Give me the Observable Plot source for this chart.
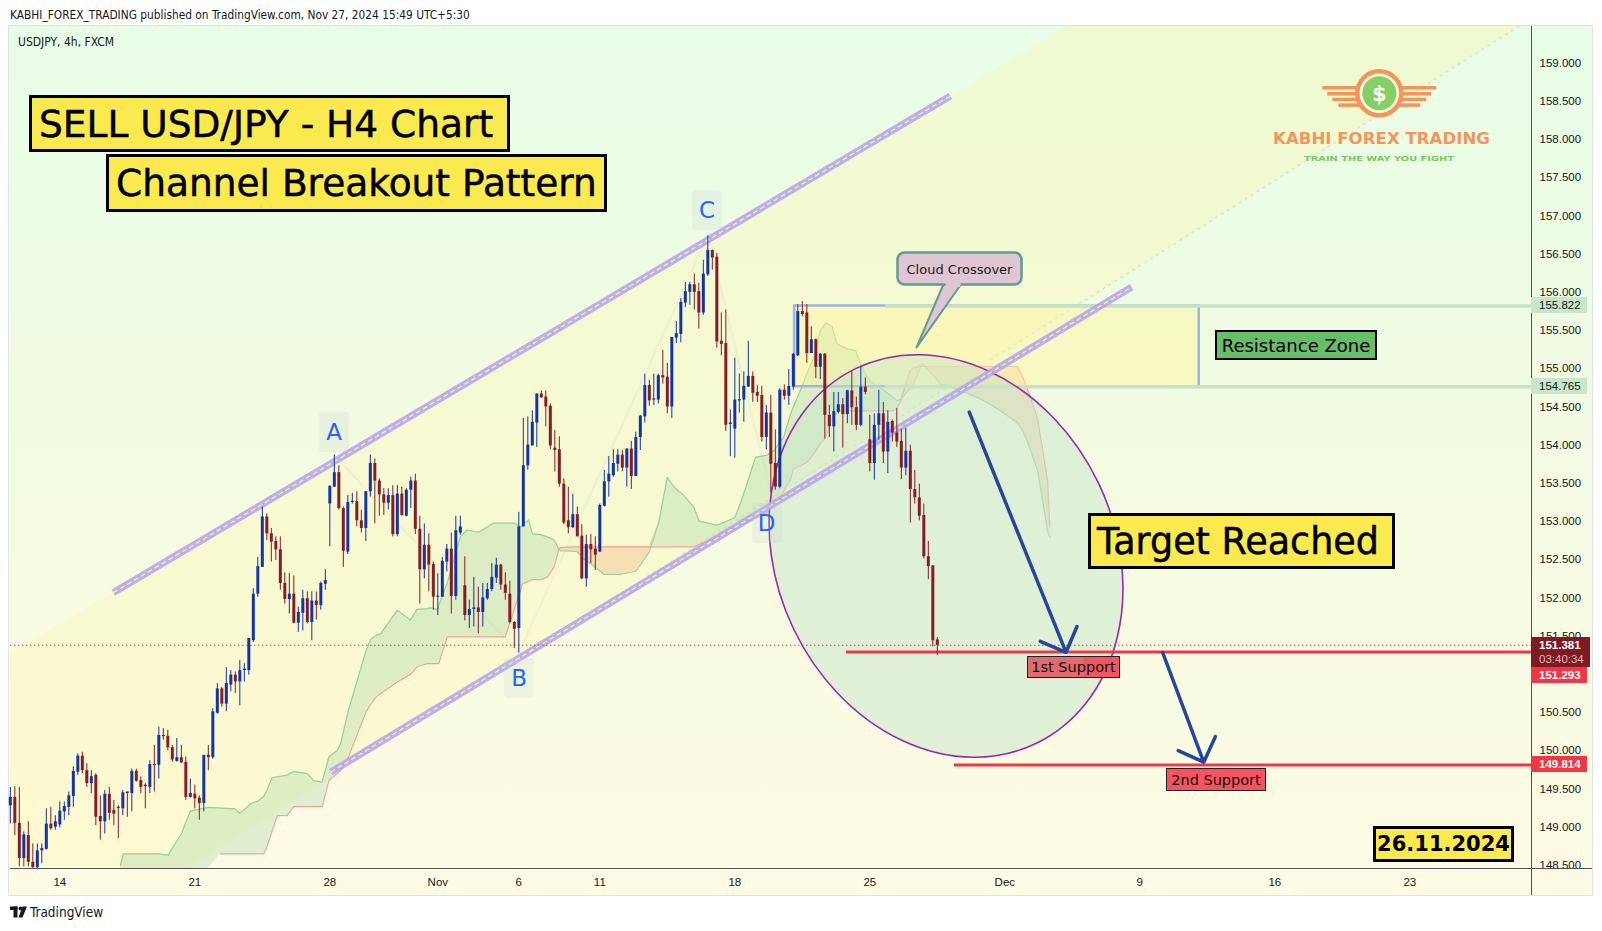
<!DOCTYPE html>
<html><head><meta charset="utf-8">
<script src="https://cdn.jsdelivr.net/npm/d3@7"></script>
<script src="https://cdn.jsdelivr.net/npm/@observablehq/plot@0.6"></script>
<style>
body{margin:0;background:#fff;}
#page{position:relative;width:1602px;height:931px;overflow:hidden;background:#fff;font-family:"DejaVu Sans",sans-serif;}
.abs{position:absolute;}
.narrow{font-family:"Liberation Sans Narrow","DejaVu Sans Condensed",sans-serif;color:#131722;}
.tbox{position:absolute;box-sizing:border-box;border:3px solid #000;background:#fbe950;color:#000;white-space:nowrap;display:flex;align-items:center;-webkit-text-stroke:0.5px #000;}
.lbl{position:absolute;box-sizing:border-box;white-space:nowrap;display:flex;align-items:center;justify-content:center;}
.plabel{position:absolute;left:1531px;box-sizing:border-box;font-family:"Liberation Sans",Arial,sans-serif;font-size:11.5px;padding-left:8px;display:flex;flex-direction:column;justify-content:center;}
.pivot{position:absolute;width:30px;height:40px;border-radius:4px;background:rgba(200,208,214,0.22);color:#2962ff;font-size:23px;display:flex;align-items:center;justify-content:center;}
</style></head>
<body><div id="page">
<div class="abs narrow" style="left:10px;top:7px;font-size:11.8px;line-height:16px;">KABHI_FOREX_TRADING published on TradingView.com, Nov 27, 2024 15:49 UTC+5:30</div>
<div class="abs" style="left:8px;top:25px;width:1585px;height:871px;box-sizing:border-box;border:1px solid #e0e3eb;background:linear-gradient(to bottom,#e8fde6 0%,#f2fbe2 45%,#fefbe3 100%);"></div>
<div id="chart" class="abs" style="left:0;top:26px;"></div>
<div class="abs narrow" style="left:18px;top:34px;font-size:12px;line-height:16px;">USDJPY, 4h, FXCM</div>
</div>
<script>
// ---------------- data ----------------
const firstBar = -11; // bar index of the first candle (bar 0 = first 4h bar of Oct 14)
const barOpen = [
149.28,149.39,149.05,148.59,148.89,148.54,148.47,148.69,148.71,149.04,
149.00,149.03,149.20,149.26,149.40,149.72,149.93,149.74,149.57,149.68,
149.14,149.07,149.43,149.22,149.26,149.24,149.46,149.44,149.73,149.61,
149.55,149.52,149.82,149.81,150.20,150.19,150.04,149.86,149.91,149.85,
149.39,149.43,149.38,149.31,149.94,149.91,150.49,150.81,150.61,150.86,
150.99,150.90,151.05,151.05,151.44,152.05,152.40,153.06,152.84,152.74,
152.63,152.19,151.98,152.05,151.67,151.80,151.99,151.68,151.96,151.90,
152.18,153.23,153.45,153.64,153.17,152.60,153.25,153.26,153.01,152.91,
153.39,153.76,153.53,153.35,153.24,153.34,152.83,153.36,153.07,153.41,
153.53,152.90,152.37,152.69,152.44,152.01,152.01,152.47,152.64,152.02,
152.85,152.16,151.77,151.85,151.87,151.81,151.99,152.11,152.26,152.43,
152.17,152.05,151.68,151.60,152.93,153.73,153.99,154.29,154.67,154.63,
154.51,153.96,153.94,153.49,153.01,152.92,153.09,152.81,152.25,152.70,
152.64,152.60,153.20,153.52,153.60,153.75,153.87,153.70,153.95,153.59,
154.10,154.37,154.78,154.59,154.59,154.91,154.89,154.50,155.40,155.45,
155.86,156.00,156.10,156.01,155.73,156.23,156.55,156.46,155.36,155.33,
154.27,154.21,154.58,154.59,154.76,154.90,154.69,154.65,154.10,154.42,
153.76,153.45,154.72,154.64,154.76,155.17,155.75,155.73,155.20,155.38,
155.02,155.19,154.39,154.24,154.43,154.53,154.40,154.71,154.49,154.26,
154.76,154.07,153.76,154.26,154.41,153.91,154.31,154.16,154.05,153.70,
153.92,153.42,153.31,153.08,152.54,152.42,151.45];
const barHigh = [
149.52,149.53,149.52,148.94,149.07,148.78,148.78,148.78,149.24,149.26,
149.15,149.33,149.33,149.46,149.79,149.96,149.98,149.83,149.74,149.70,
149.41,149.48,149.52,149.35,149.28,149.48,149.46,149.76,149.76,149.66,
149.57,149.87,150.07,150.31,150.29,150.27,150.07,150.16,150.07,149.92,
149.63,149.55,149.41,149.94,150.07,150.55,150.88,150.83,151.09,151.05,
151.03,151.18,151.14,151.47,152.12,152.53,153.19,153.10,152.91,152.80,
152.80,152.33,152.32,152.29,151.88,152.10,152.08,152.08,152.08,152.21,
152.37,153.47,153.87,153.73,153.19,153.34,153.37,153.39,153.15,153.39,
153.87,153.82,153.56,153.43,153.43,153.47,153.47,153.45,153.43,153.58,
153.62,153.07,152.97,152.84,152.47,152.32,152.53,152.70,152.85,153.07,
153.07,152.54,151.97,152.27,152.14,152.19,152.19,152.45,152.52,152.44,
152.33,152.22,151.69,153.12,154.35,154.37,154.45,154.67,154.71,154.71,
154.54,154.19,154.11,153.56,153.45,153.36,153.19,152.96,152.82,152.83,
152.80,153.23,153.67,153.85,153.94,153.94,153.93,153.95,154.05,154.17,
154.39,154.93,154.85,154.93,154.93,155.24,155.07,155.41,155.62,155.92,
156.13,156.13,156.24,156.12,156.42,156.74,156.55,156.51,155.73,155.77,
154.46,155.14,154.93,154.96,155.36,154.96,154.78,154.77,154.52,154.65,
154.20,154.74,154.79,154.99,155.20,155.84,155.88,155.84,155.55,155.39,
155.20,155.20,154.52,154.69,154.69,154.61,154.72,154.96,154.63,155.02,
154.88,154.39,154.41,154.72,154.56,154.45,154.33,154.48,154.21,154.22,
154.00,153.67,153.49,153.23,152.74,152.42,151.48];
const barLow = [
149.04,148.89,148.48,148.48,148.48,148.46,148.45,148.52,148.70,148.96,
148.96,148.99,149.09,149.15,149.26,149.68,149.70,149.52,149.44,149.02,
148.83,148.91,149.09,149.02,148.85,149.15,149.13,149.20,149.59,149.44,
149.24,149.44,149.46,149.63,150.14,150.00,149.85,149.85,149.83,149.35,
149.38,149.24,149.09,149.20,149.74,149.89,150.48,150.57,150.51,150.77,
150.75,150.59,150.90,150.99,151.42,152.01,152.40,152.75,152.47,152.49,
152.10,151.92,151.79,151.66,151.55,151.57,151.66,151.44,151.71,151.84,
152.10,152.67,153.45,153.15,152.40,152.57,153.23,152.93,152.85,152.74,
153.32,152.97,153.07,153.08,153.15,152.80,152.80,153.07,153.06,153.17,
152.83,151.92,152.25,152.08,151.84,151.77,152.01,152.34,151.79,151.97,
152.82,151.70,151.60,151.62,151.53,151.62,151.97,152.08,152.19,152.10,
151.97,151.66,151.34,151.28,152.93,153.67,153.99,153.97,154.61,154.24,
153.94,153.65,153.45,152.96,152.84,152.91,152.80,152.24,152.14,152.45,
152.36,152.60,153.19,153.32,153.58,153.65,153.65,153.45,153.42,153.59,
153.93,154.29,154.51,154.52,154.54,154.80,154.41,154.35,155.33,155.34,
155.80,155.83,155.77,155.52,155.70,156.21,156.29,155.27,155.17,154.18,
153.85,153.83,154.42,154.30,154.76,154.56,154.56,154.04,153.94,153.38,
153.41,153.43,154.59,154.52,154.72,155.16,155.68,155.07,155.20,154.87,
154.86,154.08,154.10,153.91,154.41,153.96,154.28,154.26,154.19,154.24,
154.66,153.65,153.54,154.06,153.76,153.63,154.04,153.97,153.55,153.60,
152.98,153.23,153.01,152.51,152.24,151.36,151.25];
const barClose = [
149.39,149.05,148.59,148.90,148.54,148.47,148.69,148.72,149.04,148.98,
149.07,149.21,149.27,149.41,149.73,149.93,149.74,149.57,149.66,149.13,
149.07,149.43,149.18,149.17,149.25,149.45,149.44,149.73,149.60,149.52,
149.53,149.82,149.81,150.20,150.19,150.04,149.88,149.91,149.84,149.39,
149.44,149.37,149.31,149.94,149.91,150.51,150.81,150.61,150.88,150.99,
150.90,151.05,151.07,151.47,152.05,152.41,153.06,152.84,152.73,152.63,
152.19,151.98,152.05,151.67,151.81,151.99,151.68,151.96,151.90,152.19,
152.23,153.46,153.64,153.17,152.61,153.25,153.26,153.01,152.91,153.39,
153.76,153.53,153.35,153.24,153.34,152.83,153.36,153.08,153.41,153.53,
152.90,152.37,152.69,152.43,152.01,152.02,152.48,152.64,152.02,152.88,
152.93,151.77,151.85,151.87,151.81,152.00,152.11,152.27,152.43,152.17,
152.06,151.68,151.59,152.93,153.73,154.00,154.30,154.67,154.62,154.50,
153.99,153.93,153.49,152.98,152.92,153.09,152.80,152.25,152.70,152.63,
152.56,153.21,153.52,153.62,153.76,153.87,153.70,153.95,153.59,154.10,
154.38,154.78,154.58,154.60,154.91,154.88,154.50,155.41,155.46,155.87,
156.01,156.10,156.00,155.73,156.24,156.55,156.45,155.35,155.32,154.26,
154.29,154.59,154.59,154.77,154.90,154.68,154.64,154.10,154.42,153.75,
153.45,154.72,154.64,154.77,155.19,155.75,155.71,155.20,155.38,155.02,
155.19,154.39,154.24,154.44,154.53,154.40,154.71,154.49,154.26,154.76,
154.69,153.76,154.26,154.41,153.91,154.30,154.16,154.04,153.70,153.92,
153.42,153.31,153.07,152.54,152.41,151.44,151.381];

// Ichimoku cloud (bar position, leading span A, leading span B)
const cloudBar = [13.5,14.1,22,24,27,29,33,35.7,39,40,42.5,44,45.3,46,47.2,48.3,50.5,52,55,56.4,58.3,59.8,61.6,62.4,64,66,68,69,70.2,71.3,75,77.9,79.4,81.6,82.4,83.9,84.2,86.1,89,90.5,93.1,96.4,99,100.9,102.4,102.7,104.2,105,106.8,108.3,109.8,110.9,111.2,114.9,116.4,117.9,120.9,124.6,128,131,133.1,135,136.5,138.7,140.9,142,146,150,151.3,152.7,154.6,157.2,158.7,160.9,162.4,163,164.9,166.1,167.6,169,170.2,171.6,172.7,173.5,175,176.8,177.9,179.4,180.9,183.1,185.3,186.1,186.8,189,189.7,191.6,192.7,194.2,195.7,197.9,200.1,204.8,209,212.7,213.9,215,217.3,219.5,220];
const spanA = [148.50,148.65,148.65,148.63,148.91,149.21,149.26,149.25,149.24,149.18,149.31,149.34,149.40,149.48,149.65,149.66,149.68,149.73,149.70,149.61,149.59,149.92,150.00,150.09,150.5,150.9,151.3,151.45,151.51,151.53,151.84,151.71,151.85,151.86,151.87,151.85,151.9,152.2,152.80,152.89,152.86,152.98,152.98,152.98,152.93,152.95,153.02,152.84,152.83,152.80,152.76,152.64,152.62,152.61,152.51,152.45,152.31,152.31,152.35,152.6,152.99,153.58,153.45,153.34,153.19,153.01,152.95,153.05,153.25,153.49,153.84,153.87,153.93,154.11,154.41,154.5,154.76,154.95,155.15,155.50,155.60,155.55,155.33,155.30,155.26,155.24,155.07,154.89,154.80,154.72,154.62,154.58,154.60,154.75,154.80,155.07,155.00,154.91,154.80,154.76,154.72,154.60,154.45,154.30,154.20,154.05,153.67,152.87,152.80];
const spanB = [null,null,null,null,null,null,null,148.65,148.65,148.65,148.65,148.65,148.65,148.74,148.95,149.15,149.15,149.27,149.27,149.27,149.27,149.61,149.70,149.74,149.9,150.2,150.5,150.6,150.7,150.75,150.9,151.0,151.1,151.14,151.14,151.14,151.14,151.49,151.49,151.49,151.49,151.49,151.49,151.84,152.10,152.18,152.22,152.24,152.24,152.27,152.40,152.64,152.66,152.67,152.67,152.67,152.67,152.67,152.67,152.67,152.67,152.67,152.67,152.67,152.67,152.70,152.80,152.90,152.95,153.0,153.05,153.12,153.2,153.4,153.55,153.69,153.74,153.78,153.89,154.02,154.10,154.35,154.43,154.45,154.45,154.45,154.45,154.45,154.45,154.45,154.45,154.50,154.56,154.98,155.01,155.03,155.03,155.03,155.03,155.03,155.03,155.03,155.03,155.03,154.90,154.74,154.34,153.54,152.93];

const dateTickBars = [0,30,60,84,102,120,150,180,210,240,270,300];
const dateTickLabels = ["14","21","28","Nov","6","11","18","25","Dec","9","16","23"];
const priceTicks = [148.5,149,149.5,150,150.5,151,151.5,152,152.5,153,153.5,154,154.5,155,155.5,156,156.5,157,157.5,158,158.5,159];

const resistanceLevels = [155.822, 154.765];
const supportLevels = [151.293, 149.814];
const supportStartBar = [174.8, 198.8];
const lastPrice = 151.381;

const pivotNames = ["A","B","C","D"];
const pivotBar = [61.05, 102.16, 143.94, 157.16];
const pivotLabelPrice = [154.166, 150.941, 157.078, 152.97];
const patternBar = [61, 102, 144, 158];
const patternPrice = [153.87, 151.28, 156.74, 153.38];

// ---------------- drawing geometry (annotation tools) ----------------
const channels = [
  {x1: 11.9, y1: 152.07, x2: 197.9, y2: 158.57},
  {x1: 60.2, y1: 149.72, x2: 238.2, y2: 156.07}
];
const zone = {x1: 163.3, x2: 253.2, greenFrom: 183.5};
const arrows = [
  {x1: 202.1, y1: 154.432, x2: 223.6, y2: 151.289},
  {x1: 245.1, y1: 151.283, x2: 254.2, y2: 149.851}
];
const halo = {bar: 197.04, price: 152.543, rx: 169, ry: 208, angle: -25.6};
const wedge = [[-10.96,151.27],[224.0,159.48],[324.5,159.48],[28.5,148.459],[-10.96,148.459]];

const xDomain = [-10.96, 327.04];
const yDomain = [148.459, 159.48];
const BULL = "#1434a4", BEAR = "#861d26";
const NS = "http://www.w3.org/2000/svg";

const bars = barOpen.map((o, k) => ({bar: firstBar + k, open: o, high: barHigh[k], low: barLow[k], close: barClose[k]}));
const candleColor = d => d.close >= d.open ? BULL : BEAR;
const bodyEnd = d => Math.abs(d.close - d.open) < 0.015 ? d.open + (d.close >= d.open ? 0.015 : -0.015) : d.close;
const cloud = cloudBar.map((b, k) => ({bar: b, a: spanA[k], b: spanB[k]}));

function svgEl(tag, attrs, parent) {
  const e = document.createElementNS(NS, tag);
  for (const k in attrs) e.setAttribute(k, attrs[k]);
  if (parent) parent.appendChild(e);
  return e;
}
function wedgeMark(index, scales) {
  const x = scales.x, y = scales.y;
  const g = svgEl("g", {});
  svgEl("polygon", {points: wedge.map(([i, p]) => `${x(i)},${y(p)}`).join(" "), fill: "#fff6a8", "fill-opacity": 0.3}, g);
  svgEl("line", {x1: x(wedge[2][0]), y1: y(wedge[2][1]), x2: x(130), y2: y(152.25), stroke: "#dfe9cf", "stroke-width": 2, "stroke-dasharray": "3,4"}, g);
  return g;
}
function haloMark(index, scales) {
  const cx = scales.x(halo.bar), cy = scales.y(halo.price);
  return svgEl("ellipse", {cx, cy, rx: halo.rx, ry: halo.ry, transform: `rotate(${halo.angle} ${cx} ${cy})`,
    fill: "#c8e6c9", "fill-opacity": 0.5, stroke: "#9c27b0", "stroke-width": 1.6});
}
const pattern = patternBar.map((b, k) => ({bar: b, price: patternPrice[k]}));

const plot = Plot.plot({
  width: 1602, height: 870,
  marginLeft: 10, marginRight: 71, marginTop: 0, marginBottom: 28,
  style: {background: "transparent", overflow: "visible", fontFamily: "Liberation Sans, Arial, sans-serif", fontSize: "11.5px", color: "#131722"},
  x: {domain: xDomain, axis: "bottom", ticks: dateTickBars, tickFormat: d => dateTickLabels[dateTickBars.indexOf(d)], tickSize: 0, tickPadding: 9, label: null},
  y: {domain: yDomain, axis: "right", ticks: priceTicks, tickFormat: d => d.toFixed(3), tickSize: 0, tickPadding: 8, label: null},
  marks: [
    wedgeMark,
    Plot.line(pattern, {x: "bar", y: "price", stroke: "#e9edd2", strokeWidth: 2, strokeOpacity: 0.6}),
    Plot.areaY(cloud, {x: "bar", y1: d => d.b ?? yDomain[0], y2: d => d.b == null ? d.a : Math.max(d.a, d.b), fill: "#a5d6a7", fillOpacity: 0.33}),
    Plot.areaY(cloud.filter(d => d.b != null), {x: "bar", y1: "a", y2: d => Math.max(d.a, d.b), fill: "#f6b98a", fillOpacity: 0.4}),
    Plot.line(cloud, {x: "bar", y: "a", stroke: "#93d3a0", strokeWidth: 1.2}),
    Plot.line(cloud, {x: "bar", y: "b", stroke: "#f2a39a", strokeWidth: 1.2}),
    Plot.rect([zone], {x1: "x1", x2: "x2", y1: () => resistanceLevels[1], y2: () => resistanceLevels[0], fill: "#fff59d", fillOpacity: 0.45, stroke: "#9bb5e8", strokeWidth: 2.5}),
    Plot.ruleY(resistanceLevels, {x1: zone.greenFrom, x2: xDomain[1], stroke: "#c3e2c6", strokeWidth: 3.5}),
    haloMark,
    Plot.link(channels, {x1: "x1", y1: "y1", x2: "x2", y2: "y2", stroke: "#b6a2e2", strokeWidth: 7, strokeOpacity: 0.85}),
    Plot.link(channels, {x1: "x1", y1: "y1", x2: "x2", y2: "y2", stroke: "#ffffff", strokeWidth: 1.2, strokeOpacity: 0.75, strokeDasharray: "5,3"}),
    Plot.ruleY(supportLevels, {x1: (d, k) => supportStartBar[k], x2: xDomain[1], stroke: "#f23645", strokeWidth: 3}),
    Plot.ruleY([lastPrice], {stroke: "#f23645", strokeWidth: 1, strokeDasharray: "1.5,2.5"}),
    Plot.ruleX(bars, {x: "bar", y1: "low", y2: "high", stroke: candleColor, strokeWidth: 1}),
    Plot.ruleX(bars, {x: "bar", y1: "open", y2: bodyEnd, stroke: candleColor, strokeWidth: 3}),
    Plot.arrow(arrows, {x1: "x1", y1: "y1", x2: "x2", y2: "y2", stroke: "#23479b", strokeWidth: 3.5, headAngle: 90, headLength: 12}),
    Plot.ruleY([yDomain[0]], {x1: xDomain[0], x2: 340.6, stroke: "#50535e", strokeWidth: 1}),
    Plot.ruleX([xDomain[1]], {y1: 148.106, y2: yDomain[1], stroke: "#50535e", strokeWidth: 1})
  ]
});
document.getElementById("chart").appendChild(plot);

// ---------------- overlays positioned through the plot's scales ----------------
const sx = plot.scale("x"), sy = plot.scale("y");
const top0 = 26;
const px = i => sx.apply(i), py = p => top0 + sy.apply(p);
const page = document.getElementById("page");
function div(cls, style, html) {
  const d = document.createElement("div");
  d.className = cls; d.setAttribute("style", style); d.innerHTML = html; page.appendChild(d); return d;
}
// price scale labels
div("plabel", `top:${py(resistanceLevels[0]) - 8}px;height:16px;width:56px;background:#c8e6c9;color:#131722;`, resistanceLevels[0].toFixed(3));
div("plabel", `top:${py(resistanceLevels[1]) - 8}px;height:16px;width:56px;background:#c8e6c9;color:#131722;`, resistanceLevels[1].toFixed(3));
div("plabel", `top:${py(lastPrice) - 7.5}px;height:30px;width:59px;background:#7d1a22;color:#fff;line-height:14px;`, `<span style="font-weight:bold">${lastPrice.toFixed(3)}</span><span style="color:#e6b7bb">03:40:34</span>`);
div("plabel", `top:${py(lastPrice) + 22.5}px;height:16px;width:56px;background:#f23645;color:#fff;font-weight:bold;`, supportLevels[0].toFixed(3));
div("plabel", `top:${py(supportLevels[1]) - 8}px;height:16px;width:56px;background:#f23645;color:#fff;font-weight:bold;`, supportLevels[1].toFixed(3));

// pivot letters
pivotNames.forEach((n, k) => div("pivot", `left:${px(pivotBar[k]) - 15}px;top:${py(pivotLabelPrice[k]) - 20}px;`, n));

// text boxes
div("tbox", "left:29px;top:95px;width:481px;height:57px;font-size:37.5px;padding-left:7px;", "SELL USD/JPY - H4 Chart");
div("tbox", "left:106px;top:154px;width:501px;height:58px;font-size:37.5px;padding-left:7px;", "Channel Breakout Pattern");
div("tbox", "left:1088px;top:513px;width:307px;height:56px;font-size:36.5px;padding-left:6px;", "Target Reached");
div("tbox", "left:1373px;top:826px;width:141px;height:36px;font-size:21px;font-weight:bold;justify-content:center;-webkit-text-stroke:0;", "26.11.2024");
div("lbl", "left:1215px;top:330px;width:162px;height:30px;border:2px solid #000;background:#68bd69;font-size:18px;color:#000;", "Resistance Zone");
div("lbl", "left:1027px;top:656px;width:93px;height:22px;border:1.5px solid #222;background:linear-gradient(to right,#e06a6c 0%,#e06a6c 60%,#f2555f 62%,#f2555f 100%);font-size:14.5px;color:#111;", "1st Support");
div("lbl", "left:1166px;top:768px;width:100px;height:23px;border:1.5px solid #222;background:#f5535f;font-size:14.5px;color:#111;", "2nd Support");

// svg overlay: callout, logo, footer icon
const ov = svgEl("svg", {width: 1602, height: 931, style: "position:absolute;left:0;top:0;pointer-events:none"});
page.appendChild(ov);
svgEl("polygon", {points: "944,283 962,283 916.5,347.4", fill: "#e0c5d2", stroke: "#5f9b97", "stroke-width": 2, "stroke-linejoin": "round"}, ov);
svgEl("rect", {x: 897.5, y: 252.5, width: 124, height: 32, rx: 7, fill: "#e0c5d2", stroke: "#5f9b97", "stroke-width": 2.5}, ov);
svgEl("rect", {x: 945.5, y: 281, width: 15, height: 6, fill: "#e0c5d2"}, ov);
const ct = svgEl("text", {x: 959.5, y: 273.5, "text-anchor": "middle", "font-size": 13, "font-family": "DejaVu Sans", fill: "#1a1a1a"}, ov);
ct.textContent = "Cloud Crossover";

// logo
const lg = svgEl("g", {opacity: 0.9}, ov);
const lc = 1379.3, lcy = 93.3;
[[86,3.6,38],[92,3.6,33],[97.7,3.6,28],[103.3,3.6,22]].forEach(([yy, h, w]) => {
  svgEl("rect", {x: lc - 19 - w, y: yy, width: w, height: h, fill: "#f68b4a"}, lg);
  svgEl("rect", {x: lc + 19, y: yy, width: w, height: h, fill: "#f68b4a"}, lg);
});
svgEl("circle", {cx: lc, cy: lcy, r: 22, fill: "#f7fbe4", stroke: "#f68b4a", "stroke-width": 4.5}, lg);
svgEl("circle", {cx: lc, cy: lcy, r: 17, fill: "#7acb58"}, lg);
const dol = svgEl("text", {x: lc, y: lcy + 7.5, "text-anchor": "middle", "font-size": 21, "font-weight": "bold", "font-family": "DejaVu Sans", fill: "#fff"}, lg);
dol.textContent = "$";
const t1 = svgEl("text", {x: 1273, y: 143.5, "font-size": 16.5, "font-weight": "bold", "font-family": "DejaVu Sans", fill: "#f58b4c", textLength: 217, lengthAdjust: "spacingAndGlyphs"}, lg);
t1.textContent = "KABHI FOREX TRADING";
const t2 = svgEl("text", {x: 1304, y: 160.7, "font-size": 7, "font-weight": "bold", "font-family": "DejaVu Sans", fill: "#6cc551", textLength: 150, lengthAdjust: "spacingAndGlyphs"}, lg);
t2.textContent = "TRAIN THE WAY YOU FIGHT";

// footer TradingView mark
const fg = svgEl("g", {}, ov);
svgEl("rect", {x: 10, y: 906.5, width: 7.5, height: 3.5, fill: "#131722"}, fg);
svgEl("rect", {x: 13.5, y: 906.5, width: 4, height: 11, fill: "#131722"}, fg);
svgEl("circle", {cx: 20.5, cy: 908.5, r: 2, fill: "#131722"}, fg);
svgEl("polygon", {points: "22.5,906.5 27,906.5 22.5,917.5 18.5,917.5", fill: "#131722"}, fg);
div("abs narrow", "left:30px;top:904px;font-size:13.5px;line-height:16px;", "TradingView");
</script>
</body></html>
